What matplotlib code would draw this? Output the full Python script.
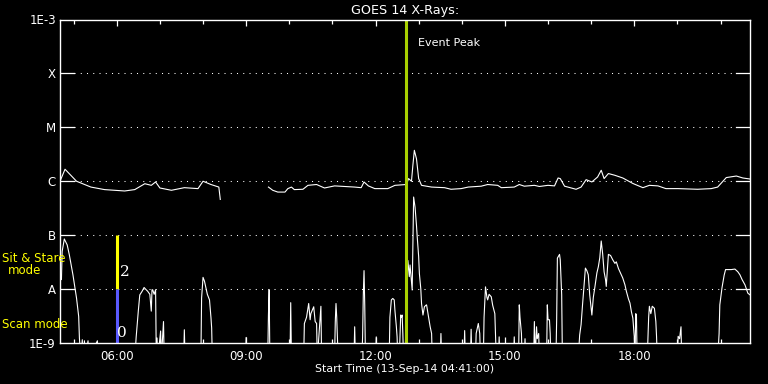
import matplotlib

matplotlib.use("Agg")
import matplotlib.pyplot as plt
import matplotlib.dates as mdates
import numpy as np
import pandas as pd

DAY = "2014-09-13"
START, END = "04:41", "20:41"
EVENT_PEAK = "12:43"
MODE_TIME = "06:00"

# long channel (1-8 A), NaN = data gap
long_points = [
    ("04:41", 1.0e-6), ("04:48", 1.67e-6), ("05:04", 1.0e-6), ("05:24", 7.8e-7),
    ("05:43", 7.0e-7), ("06:11", 6.6e-7), ("06:25", 7.0e-7), ("06:39", 9.0e-7),
    ("06:48", 8.4e-7), ("06:54", 9.7e-7), ("07:00", 7.5e-7), ("07:16", 6.8e-7),
    ("07:34", 7.6e-7), ("07:53", 7.3e-7), ("08:00", 1.0e-6), ("08:11", 8.7e-7),
    ("08:22", 7.8e-7), ("08:24", 4.6e-7), ("08:25", np.nan),
    ("09:31", 7.8e-7), ("09:37", 6.8e-7), ("09:44", 6.3e-7), ("09:54", 6.3e-7),
    ("09:58", 7.3e-7), ("10:03", 7.8e-7), ("10:07", 7.0e-7), ("10:19", 7.1e-7),
    ("10:26", 8.4e-7), ("10:38", 8.7e-7), ("10:49", 7.5e-7), ("11:03", 8.2e-7),
    ("11:31", 7.8e-7), ("11:40", 7.6e-7), ("11:44", 9.7e-7), ("11:50", 8.2e-7),
    ("11:59", 7.3e-7), ("12:17", 7.3e-7), ("12:27", 8.4e-7), ("12:43", 8.7e-7),
    ("12:46", 1.12e-6), ("12:50", 1.0e-6), ("12:52", 2.0e-6), ("12:54", 3.75e-6),
    ("12:57", 2.6e-6), ("13:00", 1.12e-6), ("13:04", 8.4e-7), ("13:18", 7.8e-7),
    ("13:36", 7.6e-7), ("13:45", 7.1e-7), ("13:59", 7.3e-7), ("14:09", 7.8e-7),
    ("14:27", 8.1e-7), ("14:36", 8.7e-7), ("14:50", 8.4e-7), ("14:55", 7.6e-7),
    ("15:13", 7.8e-7), ("15:20", 8.7e-7), ("15:27", 8.1e-7), ("15:41", 8.4e-7),
    ("15:48", 8.0e-7), ("16:00", 8.4e-7), ("16:09", 8.2e-7), ("16:14", 1.15e-6),
    ("16:17", 1.12e-6), ("16:23", 8.1e-7), ("16:39", 7.1e-7), ("16:46", 7.8e-7),
    ("16:53", 1.07e-6), ("17:01", 9.7e-7), ("17:09", 1.2e-6), ("17:14", 1.6e-6),
    ("17:18", 1.12e-6), ("17:24", 1.39e-6), ("17:33", 1.29e-6), ("17:44", 1.15e-6),
    ("17:58", 9.1e-7), ("18:12", 7.6e-7), ("18:21", 8.4e-7), ("18:33", 8.2e-7),
    ("18:44", 7.3e-7), ("19:01", 7.3e-7), ("19:28", 7.1e-7), ("19:47", 7.3e-7),
    ("19:56", 7.8e-7), ("20:08", 1.17e-6), ("20:22", 1.25e-6), ("20:31", 1.15e-6),
    ("20:41", 1.1e-6),
]

# short channel (0.5-4 A); 5e-10 means below the plotted range
short_points = [
    ("04:41", 1.5e-8), ("04:43", 1.5e-8), ("04:44", 5.0e-8), ("04:47", 8.5e-8),
    ("04:49", 7.5e-8), ("04:51", 6.6e-8), ("04:54", 4.3e-8), ("04:57", 2.6e-8),
    ("04:59", 1.84e-8), ("05:02", 1.0e-8), ("05:04", 6.8e-9), ("05:07", 3.1e-9),
    ("05:08", 1.24e-9), ("05:10", 5e-10), ("05:12", 1.15e-9), ("05:13", 5e-10),
    ("05:15", 1.1e-9), ("05:16", 5e-10), ("05:20", 1.1e-9), ("05:21", 5e-10),
    ("05:33", 1.1e-9), ("05:34", 5e-10),
    ("06:25", 5e-10), ("06:27", 1.3e-9), ("06:30", 4e-9), ("06:32", 7.8e-9),
    ("06:35", 9e-9), ("06:38", 1.07e-8), ("06:40", 1.0e-8), ("06:43", 9.1e-9),
    ("06:46", 8e-9), ("06:48", 3.9e-9), ("06:49", 9.7e-9), ("06:50", 9.7e-9),
    ("06:52", 8e-9), ("06:54", 9.7e-9), ("06:55", 5e-10), ("06:56", 1.24e-9),
    ("06:57", 5e-10), ("07:01", 1.67e-9), ("07:02", 5e-10), ("07:05", 2.5e-9),
    ("07:06", 5e-10), ("07:33", 5e-10), ("07:34", 1.76e-9), ("07:35", 5e-10),
    ("07:57", 5e-10), ("07:58", 6.8e-9), ("08:00", 1.65e-8), ("08:02", 1.4e-8),
    ("08:04", 1.05e-8), ("08:06", 8e-9), ("08:09", 6.3e-9), ("08:11", 3e-9),
    ("08:12", 1.9e-9), ("08:13", 5e-10), ("08:59", 5e-10), ("09:00", 1.27e-9),
    ("09:01", 5e-10), ("09:30", 5e-10), ("09:31", 3.3e-9), ("09:32", 9.7e-9),
    ("09:33", 5e-10), ("10:01", 5e-10), ("10:02", 5.6e-9), ("10:03", 5e-10),
    ("10:20", 5e-10), ("10:21", 2.3e-9), ("10:24", 3e-9), ("10:27", 5.4e-9),
    ("10:29", 2.7e-9), ("10:30", 3.5e-9), ("10:34", 4.7e-9), ("10:36", 2.5e-9),
    ("10:38", 2.3e-9), ("10:39", 5e-10), ("10:43", 3e-9), ("10:44", 4.8e-9),
    ("10:45", 5e-10), ("11:03", 5e-10), ("11:04", 2.5e-9), ("11:05", 5.4e-9),
    ("11:06", 3e-9), ("11:08", 5e-10), ("11:30", 5e-10), ("11:31", 2.0e-9),
    ("11:32", 5e-10), ("11:41", 5e-10), ("11:42", 1.3e-9), ("11:43", 8e-9),
    ("11:44", 2.2e-8), ("11:45", 5e-9), ("11:46", 5e-10), ("12:00", 5e-10),
    ("12:01", 1.3e-9), ("12:02", 5e-10), ("12:19", 5e-10), ("12:20", 3e-9),
    ("12:22", 6.3e-9), ("12:24", 6.7e-9), ("12:26", 6.3e-9), ("12:27", 4e-9),
    ("12:29", 2e-9), ("12:30", 1.3e-9), ("12:31", 5e-10), ("12:33", 5e-10),
    ("12:35", 3.3e-9), ("12:36", 3e-9), ("12:37", 3.3e-9), ("12:38", 1.5e-9),
    ("12:39", 5e-10), ("12:41", 5e-10), ("12:44", 1.5e-8), ("12:45", 3.4e-8),
    ("12:47", 1.7e-8), ("12:48", 2.8e-8), ("12:51", 9.6e-9), ("12:53", 5.1e-7),
    ("12:55", 3.3e-7), ("12:57", 1.5e-7), ("12:58", 9.3e-8), ("13:00", 4e-8),
    ("13:01", 1.95e-8), ("13:03", 1e-8), ("13:04", 5.4e-9), ("13:06", 3.3e-9),
    ("13:08", 4.7e-9), ("13:10", 5e-9), ("13:11", 5.1e-9), ("13:13", 3.5e-9),
    ("13:16", 2e-9), ("13:18", 1.5e-9), ("13:19", 5e-10), ("13:30", 5e-10),
    ("13:31", 1.5e-9), ("13:32", 5e-10), ("14:03", 5e-10), ("14:04", 1.7e-9),
    ("14:05", 5e-10), ("14:12", 5e-10), ("14:13", 1.8e-9), ("14:14", 5e-10),
    ("14:19", 5e-10), ("14:20", 1.5e-9), ("14:23", 2.3e-9), ("14:25", 1.5e-9),
    ("14:26", 5e-10), ("14:30", 5e-10), ("14:31", 3e-9), ("14:33", 1.1e-8),
    ("14:35", 7e-9), ("14:36", 6.3e-9), ("14:38", 8e-9), ("14:41", 7.2e-9),
    ("14:43", 5e-9), ("14:46", 3.5e-9), ("14:48", 5e-10), ("14:51", 5e-10),
    ("14:52", 1.3e-9), ("14:53", 5e-10), ("15:12", 5e-10), ("15:13", 1.3e-9),
    ("15:14", 5e-10), ("15:19", 5e-10), ("15:20", 5.1e-9), ("15:21", 3e-9),
    ("15:23", 1.5e-9), ("15:24", 5e-10), ("15:27", 5e-10), ("15:28", 1.2e-9),
    ("15:29", 5e-10), ("15:40", 5e-10), ("15:41", 2.5e-9), ("15:42", 5e-10),
    ("15:44", 2e-9), ("15:45", 1.2e-9), ("15:47", 1.5e-9), ("15:48", 5e-10),
    ("15:58", 5e-10), ("15:59", 5.1e-9), ("16:00", 2.7e-9), ("16:02", 2.7e-9),
    ("16:03", 1.5e-9), ("16:04", 5e-10), ("16:11", 5e-10), ("16:12", 2.7e-9),
    ("16:13", 3.75e-8), ("16:16", 4.4e-8), ("16:17", 3.5e-8), ("16:19", 7.8e-9),
    ("16:20", 5e-10), ("16:42", 5e-10), ("16:44", 1.4e-9), ("16:46", 2.2e-9),
    ("16:48", 5.1e-9), ("16:52", 2.45e-8), ("16:54", 2.2e-8), ("16:56", 1.84e-8),
    ("16:58", 7.8e-9), ("17:01", 3.3e-9), ("17:03", 7e-9), ("17:05", 1.05e-8),
    ("17:08", 2e-8), ("17:10", 2.6e-8), ("17:12", 3.8e-8), ("17:14", 7.8e-8),
    ("17:16", 4.5e-8), ("17:18", 2.1e-8), ("17:20", 1.5e-8), ("17:21", 1.12e-8),
    ("17:24", 4.4e-8), ("17:27", 4.2e-8), ("17:30", 3.5e-8), ("17:33", 3.0e-8),
    ("17:35", 3.2e-8), ("17:38", 2.4e-8), ("17:40", 2.1e-8), ("17:44", 1.6e-8),
    ("17:47", 1.2e-8), ("17:49", 9.1e-9), ("17:52", 6.5e-9), ("17:54", 5.5e-9),
    ("17:56", 3.8e-9), ("17:58", 2.9e-9), ("18:00", 1.3e-9), ("18:01", 5e-10),
    ("18:02", 3.5e-9), ("18:03", 3.3e-9), ("18:04", 5e-10), ("18:18", 5e-10),
    ("18:20", 3e-9), ("18:21", 4.8e-9), ("18:23", 3.5e-9), ("18:25", 4.8e-9),
    ("18:28", 4.4e-9), ("18:30", 2.5e-9), ("18:31", 1.3e-9), ("18:32", 5e-10),
    ("19:00", 5e-10), ("19:01", 1.33e-9), ("19:03", 1.2e-9), ("19:05", 2e-9),
    ("19:06", 5e-10), ("19:56", 5e-10), ("19:58", 1.5e-9), ("19:59", 5.1e-9),
    ("20:02", 1.05e-8), ("20:05", 1.8e-8), ("20:07", 2.3e-8), ("20:10", 2.3e-8),
    ("20:15", 2.3e-8), ("20:20", 2.35e-8), ("20:24", 2.1e-8), ("20:27", 1.84e-8),
    ("20:30", 1.5e-8), ("20:34", 1.2e-8), ("20:38", 8.4e-9), ("20:41", 7.8e-9),
]

level_values = [1e-9, 1e-8, 1e-7, 1e-6, 1e-5, 1e-4, 1e-3]
level_labels = ["1E-9", "A", "B", "C", "M", "X", "1E-3"]
major_hours = ["06:00", "09:00", "12:00", "15:00", "18:00"]

# mode bars: sit & stare (B..A), scan (A..bottom)
sit_stare_range = (1e-8, 1e-7)
scan_range = (1e-9, 1e-8)


def ts(hhmm):
    return pd.Timestamp(f"{DAY} {hhmm}")


long_t = [ts(t) for t, _ in long_points]
long_f = [f for _, f in long_points]
short_t = [ts(t) for t, _ in short_points]
short_f = [f for _, f in short_points]

fig = plt.figure(figsize=(7.68, 3.84), dpi=100, facecolor="black")
ax = fig.add_axes([60 / 768, 41 / 384, 690 / 768, 323.5 / 384], facecolor="black")

ax.set_yscale("log")
ax.set_ylim(1e-9, 1e-3)
ax.set_xlim(ts(START), ts(END))

# dotted level lines with short solid stubs at both axes
for lv in level_values[1:-1]:
    ax.axhline(lv, xmin=14 / 690, xmax=676 / 690, color="white",
               lw=0.75, linestyle=(0, (1, 5)))
    ax.axhline(lv, xmin=0, xmax=14 / 690, color="white", lw=0.9)
    ax.axhline(lv, xmin=676 / 690, xmax=1, color="white", lw=0.9)

ax.plot(long_t, long_f, color="white", lw=0.8)
ax.plot(short_t, short_f, color="white", lw=0.8)

# mode indicator
ax.plot([ts(MODE_TIME)] * 2, sit_stare_range, color="#ffff00", lw=2.2,
        solid_capstyle="butt")
ax.plot([ts(MODE_TIME)] * 2, scan_range, color="#5a5aff", lw=2.2,
        solid_capstyle="butt")
ax.annotate("2", xy=(ts(MODE_TIME), 10 ** -7.69), xytext=(2, 0),
            textcoords="offset points", va="center", ha="left",
            color="white", fontsize=11, family="DejaVu Serif")
ax.annotate("0", xy=(ts(MODE_TIME), 10 ** -8.82), xytext=(0, 0),
            textcoords="offset points", va="center", ha="left",
            color="white", fontsize=11, family="DejaVu Serif")

# event peak
ax.axvline(ts(EVENT_PEAK), color="#a8d000", lw=2.2)
ax.annotate("Event Peak", xy=(ts(EVENT_PEAK), 10 ** -3.44), xytext=(8, 0),
            textcoords="offset points", va="center", ha="left",
            color="white", fontsize=8)

ax.set_yticks(level_values)
ax.set_yticklabels(level_labels)
ax.yaxis.set_minor_locator(matplotlib.ticker.NullLocator())
ax.tick_params(axis="y", which="both", length=0, pad=3, colors="white",
               labelsize=8.5)

ax.set_xticks([ts(h) for h in major_hours])
ax.xaxis.set_major_formatter(mdates.DateFormatter("%H:%M"))
ax.xaxis.set_minor_locator(mdates.HourLocator())
ax.tick_params(axis="x", which="major", direction="in", length=4.5, width=0.9,
               top=True, bottom=True, colors="white", labelsize=8.5, pad=5)
ax.tick_params(axis="x", which="minor", direction="in", length=3, width=0.9,
               top=True, bottom=True, colors="white")

for sp in ax.spines.values():
    sp.set_color("white")
    sp.set_linewidth(1.0)

ax.set_title("GOES 14 X-Rays:", color="white", fontsize=9.2, pad=4)
ax.set_xlabel("Start Time (13-Sep-14 04:41:00)", color="white",
              fontsize=7.9, labelpad=1)

fig.text(2 / 768, 1 - 258 / 384, "Sit & Stare", color="#ffff00",
         fontsize=8.5, va="center", ha="left")
fig.text(25 / 768, 1 - 271 / 384, "mode", color="#ffff00",
         fontsize=8.5, va="center", ha="center")
fig.text(2 / 768, 1 - 324 / 384, "Scan mode", color="#ffff00",
         fontsize=8.5, va="center", ha="left")

fig.savefig("out.png", dpi=100, facecolor="black")
